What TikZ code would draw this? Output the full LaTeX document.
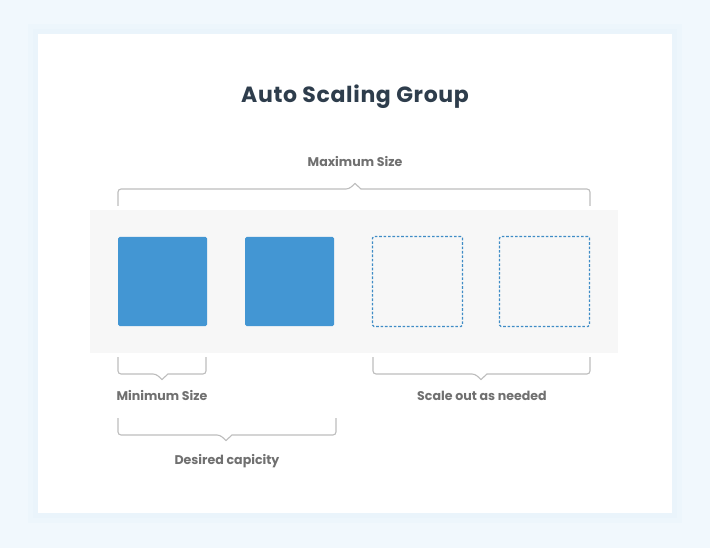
\documentclass[tikz,border=0pt]{standalone}
\usepackage{fontspec}
\setmainfont{Poppins}
\newfontfamily\titlefont[LetterSpace=3]{Poppins}
\definecolor{bgblue}{HTML}{F1F8FD}
\definecolor{shadowblue}{HTML}{E9F3FB}
\definecolor{band}{HTML}{F7F7F7}
\definecolor{boxblue}{HTML}{4396D3}
\definecolor{dashblue}{HTML}{3F8CC6}
\definecolor{titlecol}{HTML}{2E3D4C}
\definecolor{labelcol}{HTML}{707070}
\definecolor{bracketcol}{HTML}{BDBDBD}
\tikzset{
  solidbox/.style={fill=boxblue, draw=none, rounded corners=1.5pt, minimum width=89pt, minimum height=89pt, inner sep=0pt},
  dashbox/.style={draw=dashblue, line width=1.1pt, dash pattern=on 2.6pt off 1.8pt, rounded corners=1.5pt, minimum width=90pt, minimum height=90pt, inner sep=0pt},
  lbl/.style={font=\bfseries\fontsize{12.6}{14}\selectfont, text=labelcol, inner sep=0pt},
  brk/.style={draw=bracketcol, line width=1.1pt, rounded corners=3pt},
}
\begin{document}
\begin{tikzpicture}[x=1pt,y=-1pt]
\useasboundingbox (0,0) rectangle (710,548);
\fill[bgblue] (0,0) rectangle (710,548);
\fill[shadowblue, opacity=0.4] (28,24) rectangle (682,523);
\fill[shadowblue, opacity=0.6] (33,29) rectangle (677,518);
\fill[white] (38,34) rectangle (672,513);
\fill[band] (90,210) rectangle (618,353);

\node[font=\titlefont\bfseries\fontsize{22}{24}\selectfont, text=titlecol] (title) at (355,97) {Auto Scaling Group};

\node[solidbox] (b1) at (162.5,281.5) {};
\node[solidbox] (b2) at (289.5,281.5) {};
\node[dashbox] (b3) at (417.5,281.5) {};
\node[dashbox] (b4) at (544.5,281.5) {};

\node[lbl] (maxl) at (355,162) {Maximum Size};
\node[lbl] (minl) at (162,396) {Minimum Size};
\node[lbl] (scl) at (482,396) {Scale out as needed};
\node[lbl] (desl) at (227,461) {Desired capicity};

% Maximum size bracket
\draw[brk] (118,206) -- (118,189) -- (349,189) [sharp corners]-- (355,183.5) -- (361,189) [rounded corners=3pt]-- (590,189) -- (590,206);
% Minimum size bracket
\draw[brk] (118,357) -- (118,374) -- (156,374) [sharp corners]-- (162,379.5) -- (168,374) [rounded corners=3pt]-- (206,374) -- (206,357);
% Scale out bracket
\draw[brk] (373,357) -- (373,374) -- (475,374) [sharp corners]-- (481,379.5) -- (487,374) [rounded corners=3pt]-- (590,374) -- (590,357);
% Desired capacity bracket
\draw[brk] (118,418) -- (118,435) -- (220,435) [sharp corners]-- (226,440.5) -- (232,435) [rounded corners=3pt]-- (336,435) -- (336,418);
\end{tikzpicture}
\end{document}
